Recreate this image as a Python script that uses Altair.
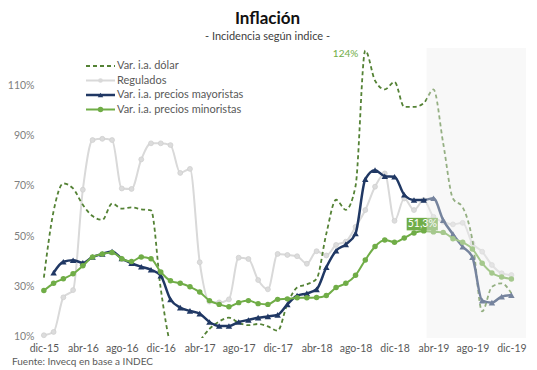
import altair as alt
import pandas as pd

# ---------------- data ----------------
meses = ["ene", "feb", "mar", "abr", "may", "jun", "jul", "ago", "sep", "oct", "nov", "dic"]
month_labels = ["dic-15"] + [f"{m}-{y}" for y in ["16", "17", "18", "19"] for m in meses]

dolar = [33.5, 60, 71, 69, 62.5, 58, 56.5, 63, 61, 61.5, 60.7, 60.3,
         29, 7, 1, 1, 8, 13, 16, 17.5, 15.5, 14.5, 15, 14,
         12.3, 23, 29.5, 30.8, 33, 51, 64.5, 60.5, 70, 124, 112, 108.5,
         111.5, 101.5, 101.5, 103, 108.5, 87, 65, 61.5, 48.4, 20, 29.8, 31.2, 27.2]

regulados = [10.5, 11.8, 25.6, 28.5, 68.5, 88.3, 88.8, 88.3, 69, 68.8, 80.6, 87,
             87, 86.3, 75.2, 76.8, 39.6, 23.9, 23.6, 24.8, 41.4, 40.9, 32.5, 28.8,
             42.9, 42.5, 42, 39, 44, 42.3, 46.5, 47.8, 53.7, 60.4, 69.7, 75,
             56.1, 65, 60.4, 64.4, 57.7, 55.7, 54.7, 55.3, 47.1, 43.8, 38.5, 35.2, 34.5]

mayoristas = [None, 35.4, 39.8, 40.4, 39.4, 41.7, 42.9, 43.9, 41.1, 39.2, 37.8, 36.6,
              34.2, 24.8, 21.5, 20.2, 19.1, 15.8, 14.2, 14.2, 15.8, 16.6, 17.5, 18.0,
              18.6, 22.8, 26.3, 27.2, 28.8, 37.6, 44.2, 46.7, 51.1, 72.7, 76.3, 73.9,
              73.7, 66.5, 64.4, 64.4, 65.1, 56.4, 50.8, 45.8, 41.6, 24.3, 23.5, 25.9, 26.5]

minoristas = [28.3, 31.2, 33.0, 35.0, 38.2, 41.7, 42.9, 43.5, 41.0, 39.9, 41.7, 41.0,
              35.7, 32.2, 31.2, 29.8, 27.7, 24.3, 22.8, 21.9, 23.5, 24.3, 23.1, 22.8,
              24.8, 25.0, 25.4, 25.4, 25.5, 26.3, 29.5, 31.2, 34.4, 40.5, 45.9, 48.5,
              47.6, 49.3, 51.3, 52.1, 51.7, 51.5, 49.0, 47.6, 44.9, 39.2, 35.3, 33.7, 32.9]

series_names = ["Var. i.a. dólar", "Regulados", "Var. i.a. precios mayoristas", "Var. i.a. precios minoristas"]
series_colors = ["#548235", "#d9d9d9", "#203864", "#70ad47"]

tick_idx = list(range(0, 49, 4))
y_ticks = [10, 30, 50, 70, 90, 110]

shade_start = [39.3]
shade_end = [49.5]

label_idx = [38]
label_val = [51.3]
label_txt = ["51,3%"]

peak_idx = [33]
peak_val = [124]
peak_txt = ["124%"]

# ---------------- frames ----------------
def frame(values):
    return pd.DataFrame({"idx": list(range(len(values))), "value": values}).dropna()

df_dolar = frame(dolar)
df_reg = frame(regulados)
df_may = frame(mayoristas)
df_min = frame(minoristas)
df_shade = pd.DataFrame({"start": shade_start, "end": shade_end})
df_lab = pd.DataFrame({"idx": label_idx, "value": label_val, "txt": label_txt})
df_peak = pd.DataFrame({"idx": peak_idx, "value": peak_val, "txt": peak_txt})

W, H = 487, 290
FONT = "Lato"

xscale = alt.Scale(domain=[-0.5, 49.5], nice=False, zero=False)
yscale = alt.Scale(domain=[9.4, 125], nice=False, zero=False)
label_expr = "[" + ",".join(f"'{month_labels[i]}'" for i in tick_idx) + "][round(datum.value/4)]"
xaxis = alt.Axis(values=tick_idx, labelExpr=label_expr, grid=False, domain=False, ticks=False,
                 labelPadding=5, labelFontSize=10.5, labelColor="#595959", labelFont=FONT,
                 labelFlush=False, title=None)
yaxis = alt.Axis(values=y_ticks, labelExpr="datum.value + '%'", grid=False, domain=False, ticks=False,
                 labelPadding=5, labelFontSize=10.5, labelColor="#808080", labelFont=FONT, title=None)


def X(f):
    return alt.X(f, scale=xscale, axis=xaxis)


def Y(f):
    return alt.Y(f, scale=yscale, axis=yaxis)


base_enc = dict(x=X("idx:Q"), y=Y("value:Q"))

reg_line = alt.Chart(df_reg).mark_line(color=series_colors[1], strokeWidth=2, interpolate="monotone").encode(**base_enc)
reg_pts = alt.Chart(df_reg).mark_point(shape="circle", filled=True, size=24, color="#dcdcdc",
                                       stroke="#cfcfcf", strokeWidth=0.8, opacity=1).encode(**base_enc)

dol_line = alt.Chart(df_dolar).mark_line(color=series_colors[0], strokeWidth=1.8, strokeDash=[4, 3],
                                         interpolate="monotone", clip=True).encode(**base_enc)

may_line = alt.Chart(df_may).mark_line(color=series_colors[2], strokeWidth=2.5, interpolate="monotone").encode(**base_enc)
may_pts = alt.Chart(df_may).mark_point(shape="triangle-up", filled=True, size=42, color=series_colors[2],
                                       opacity=1).encode(**base_enc)

min_line = alt.Chart(df_min).mark_line(color=series_colors[3], strokeWidth=2, interpolate="monotone").encode(**base_enc)
min_pts = alt.Chart(df_min).mark_point(shape="circle", filled=True, size=30, color=series_colors[3],
                                       opacity=1).encode(**base_enc)

lab_box = alt.Chart(df_lab).transform_calculate(
    x1="datum.idx - 0.75", x2="datum.idx + 2.45", y1="datum.value + 1.0", y2="datum.value + 6.0"
).mark_rect(color="#70ad47").encode(x=X("x1:Q"), x2="x2:Q", y=Y("y1:Q"), y2="y2:Q")
lab_txt = alt.Chart(df_lab).transform_calculate(
    xt="datum.idx + 0.85", yt="datum.value + 3.5"
).mark_text(color="white", fontSize=10.5, font=FONT, baseline="middle", align="center").encode(
    x=X("xt:Q"), y=Y("yt:Q"), text="txt:N")

peak_lab = alt.Chart(df_peak).mark_text(color="#70ad47", fontSize=10, font=FONT, align="right",
                                        baseline="middle", dx=-7, dy=3).encode(
    x=X("idx:Q"), y=Y("value:Q"), text="txt:N")

shade = alt.Chart(df_shade).mark_rect(color="#eeeeee", opacity=0.42).encode(
    x=X("start:Q"), x2="end:Q", y=alt.value(0), y2=alt.value(H))

# ---------------- manual legend ----------------
legend_layers = []
LX0, LX1, LY0, LDY = 47, 76, 18, 14.5
for i, (name, col) in enumerate(zip(series_names, series_colors)):
    ly = LY0 + LDY * i
    dash = [4, 3] if i == 0 else [1, 0]
    sw = 1.8 if i == 0 else (2.5 if i == 2 else 2)
    legend_layers.append(
        alt.Chart(df_lab).mark_rule(color=col, strokeWidth=sw, strokeDash=dash).encode(
            x=alt.value(LX0), x2=alt.value(LX1), y=alt.value(ly)))
    if i > 0:
        shp = "triangle-up" if i == 2 else "circle"
        legend_layers.append(
            alt.Chart(df_lab).mark_point(shape=shp, filled=True, size=30 if i != 1 else 22,
                                         color=col, opacity=1).encode(
                x=alt.value((LX0 + LX1) / 2), y=alt.value(ly)))
    legend_layers.append(
        alt.Chart(df_lab).mark_text(text=name, align="left", baseline="middle", fontSize=11,
                                    font=FONT, color="#595959").encode(
            x=alt.value(LX1 + 2), y=alt.value(ly)))

source = alt.Chart(df_lab).mark_text(text="Fuente: Invecq en base a INDEC", align="left", baseline="middle",
                                     fontSize=10, font=FONT, color="#595959").encode(
    x=alt.value(-27), y=alt.value(314))

chart = alt.layer(
    reg_line, reg_pts, dol_line, may_line, may_pts, min_line, min_pts,
    lab_box, lab_txt, peak_lab, shade, *legend_layers, source
).properties(
    width=W, height=H,
    autosize=alt.AutoSizeParams(type="none"),
    padding={"left": 31, "top": 40, "right": 3, "bottom": 30},
    title=alt.TitleParams(text="Inflación", subtitle="- Incidencia según indice -", anchor="middle",
                          dx=-15, fontSize=17, font=FONT, fontWeight="bold", color="#111111",
                          subtitleFont=FONT, subtitleFontSize=11, subtitleColor="#404040",
                          subtitlePadding=3, offset=5)
).configure(font=FONT).configure_view(stroke=None)

chart.save("out.html", embed_options={"renderer": "svg", "actions": False})
